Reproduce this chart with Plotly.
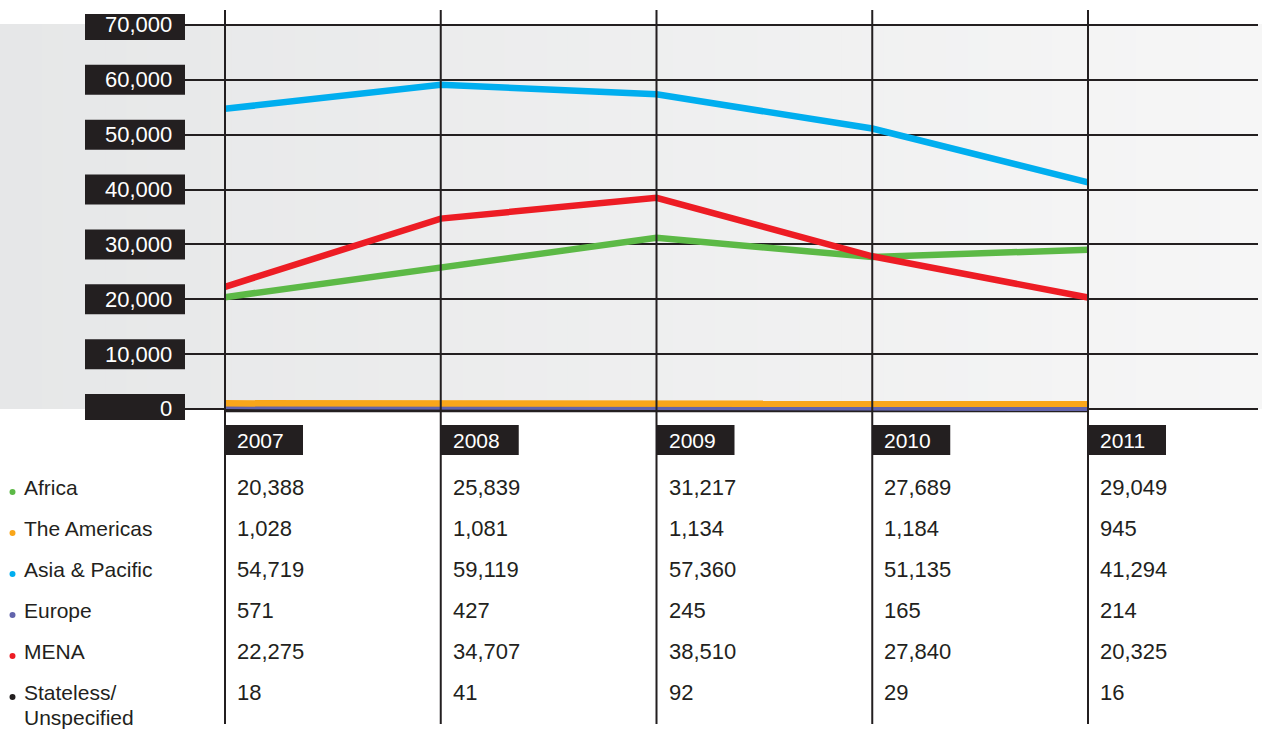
import plotly.graph_objects as go

# ---- data ----
years = [2007, 2008, 2009, 2010, 2011]
regions = ["Africa", "The Americas", "Asia & Pacific", "Europe", "MENA", "Stateless/\nUnspecified"]
africa = [20388, 25839, 31217, 27689, 29049]
americas = [1028, 1081, 1134, 1184, 945]
asia_pacific = [54719, 59119, 57360, 51135, 41294]
europe = [571, 427, 245, 165, 214]
mena = [22275, 34707, 38510, 27840, 20325]
stateless = [18, 41, 92, 29, 16]
y_ticks = [0, 10000, 20000, 30000, 40000, 50000, 60000, 70000]

series = [africa, americas, asia_pacific, europe, mena, stateless]
colors = ["#5cb946", "#f9a61a", "#00aeef", "#6264ac", "#ed1c24", "#231f20"]

W, H = 1262, 729
DARK = "#231f20"
FONT = "Liberation Sans, Arial, sans-serif"

def px(x):
    return x / W

def py(y):
    return 1 - y / H

x_2007, x_2011 = 225, 1088
per_year = (x_2011 - x_2007) / 4
y0_px, y70_px = 409, 25
k = (y0_px - y70_px) / 70000
ymin, ymax = -2000, 72000

fig = go.Figure()

order = [5, 3, 1, 0, 4, 2]
for i in order:
    fig.add_trace(go.Scatter(
        x=years, y=series[i], mode="lines",
        line=dict(color=colors[i], width=6.5),
        name=regions[i], showlegend=False, hoverinfo="skip",
    ))

shapes = []
n = 60
c0 = (230, 231, 232)
c1 = (246, 246, 246)
for j in range(n):
    t = j / (n - 1)
    c = tuple(round(c0[m] + (c1[m] - c0[m]) * t) for m in range(3))
    shapes.append(dict(type="rect", xref="paper", yref="paper",
                       x0=j / n, x1=(j + 1) / n + 0.001,
                       y0=py(409), y1=py(24), line=dict(width=0),
                       fillcolor="rgb(%d,%d,%d)" % c, layer="below"))

for yr in years:
    shapes.append(dict(type="line", xref="x", yref="paper", x0=yr, x1=yr,
                       y0=py(724), y1=py(10), line=dict(color=DARK, width=2),
                       layer="above"))

annotations = []
for v in y_ticks:
    shapes.append(dict(type="rect", xref="paper", yref="y",
                       x0=px(85), x1=px(185), y0=v - 15 / k, y1=v + 15 / k,
                       fillcolor=DARK, line=dict(width=0), layer="above"))
    annotations.append(dict(xref="paper", yref="y", x=px(174), y=v,
                            xanchor="right", yanchor="middle", showarrow=False,
                            text=f"{v:,}", font=dict(color="white", size=22, family=FONT)))

box_w = 78 / per_year
off = 10 / per_year
for yr in years:
    shapes.append(dict(type="rect", xref="x", yref="paper",
                       x0=yr, x1=yr + box_w, y0=py(455), y1=py(425),
                       fillcolor=DARK, line=dict(width=0), layer="above"))
    annotations.append(dict(xref="x", yref="paper", x=yr + off, y=py(440.5),
                            xanchor="left", yanchor="middle", showarrow=False,
                            text=str(yr), font=dict(color="white", size=21, family=FONT)))

row_y = [487, 528, 569, 610, 651, 692]
for r, name in enumerate(regions):
    yy = row_y[r]
    for li, part in enumerate(name.split("\n")):
        annotations.append(dict(xref="paper", yref="paper", x=px(22), y=py(yy + 25 * li),
                                xanchor="left", yanchor="middle", showarrow=False,
                                text=part, font=dict(color=DARK, size=21, family=FONT)))
    shapes.append(dict(type="circle", xref="paper", yref="paper",
                       x0=px(9.5), x1=px(15.5), y0=py(yy + 8), y1=py(yy + 2),
                       fillcolor=colors[r], line=dict(width=0)))
    for c, yr in enumerate(years):
        annotations.append(dict(xref="x", yref="paper", x=yr + off, y=py(yy),
                                xanchor="left", yanchor="middle", showarrow=False,
                                text=f"{series[r][c]:,}", font=dict(color=DARK, size=22, family=FONT)))

fig.update_layout(
    width=W, height=H,
    margin=dict(l=0, r=0, t=0, b=0),
    paper_bgcolor="white",
    plot_bgcolor="rgba(0,0,0,0)",
    showlegend=False,
    xaxis=dict(domain=[px(185), px(1258)],
               range=[2007 - 40 / per_year, 2011 + 170 / per_year],
               showgrid=False, zeroline=False, showticklabels=False, ticks="",
               fixedrange=True),
    yaxis=dict(domain=[py(y0_px + 2000 * k), py(y70_px - 2000 * k)],
               range=[ymin, ymax], tick0=0, dtick=10000,
               showgrid=True, gridcolor=DARK, gridwidth=2,
               zeroline=False, showticklabels=False, ticks="", fixedrange=True),
    shapes=shapes,
    annotations=annotations,
)

fig.write_html("out.html", config={"displayModeBar": False},
               post_script="document.body.style.margin='0px';document.body.style.overflow='hidden';")
